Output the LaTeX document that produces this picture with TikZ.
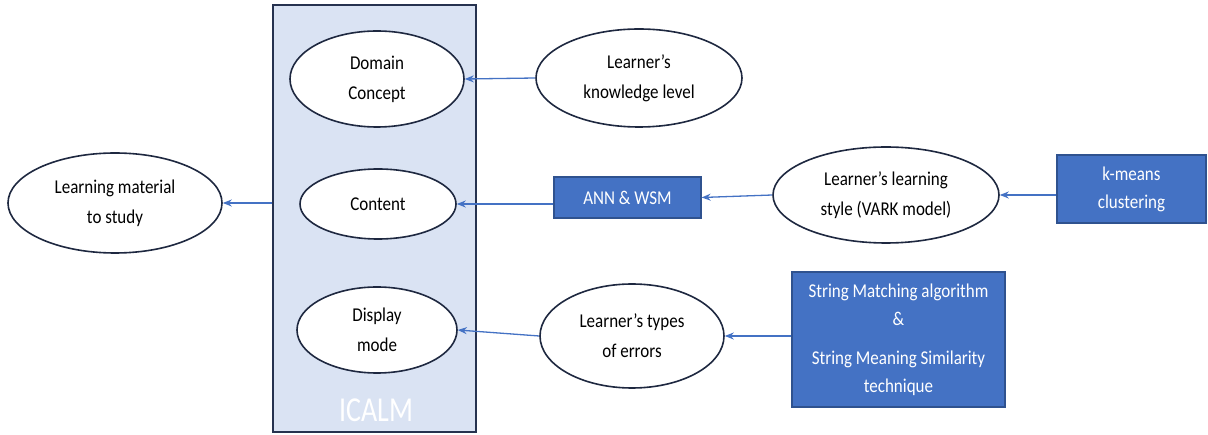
\documentclass[tikz,border=0pt]{standalone}
\usepackage{fontspec}
\usepackage{graphicx}
\setmainfont{Carlito}
\usetikzlibrary{shapes.geometric,arrows.meta}

\definecolor{panelfill}{HTML}{DAE3F3}
\definecolor{panelline}{HTML}{26324F}
\definecolor{ovalline}{HTML}{1E2840}
\definecolor{boxfill}{HTML}{4472C4}
\definecolor{boxline}{HTML}{2F528F}
\definecolor{linkcol}{HTML}{4472C4}

% slightly condensed-looking lettering: stretch each line vertically
\newcommand\tl[1]{\scalebox{1}[1.15]{#1}}

\tikzset{
  oval/.style={ellipse, draw=ovalline, line width=1.6pt, fill=white, inner sep=0pt,
    align=center, font=\fontsize{17}{30}\selectfont, text=black},
  bluebox/.style={rectangle, draw=boxline, line width=1.3pt, fill=boxfill, inner sep=0pt,
    align=center, font=\fontsize{17}{28}\selectfont, text=white},
  link/.style={draw=linkcol, line width=1.3pt, -{Stealth[length=9pt,width=7pt]}},
}

\begin{document}
\begin{tikzpicture}[x=1pt, y=-1pt]
  \useasboundingbox (0,0) rectangle (1208,435);

  % system panel
  \node[rectangle, draw=panelline, line width=1.6pt, fill=panelfill,
        minimum width=203pt, minimum height=427pt, inner sep=0pt] (icalm) at (374.5,218.5) {};
  \node[text=white, font=\fontsize{28}{28}\selectfont] (icalmlabel) at (376,410) {\scalebox{1}[1.25]{ICALM}};

  % components inside the panel
  \node[oval, minimum width=174pt, minimum height=96pt] (dom)  at (377,79)  {\tl{Domain}\\\tl{Concept}};
  \node[oval, minimum width=156pt, minimum height=70pt] (cont) at (378,204) {\tl{Content}};
  \node[oval, minimum width=160pt, minimum height=86pt] (disp) at (377,330) {\tl{Display}\\\tl{mode}};

  % output
  \node[oval, minimum width=214pt, minimum height=100pt] (mat) at (115,203) {\tl{Learning material}\\\tl{to study}};

  % learner model
  \node[oval, minimum width=206pt, minimum height=98pt]  (know)  at (639,78)  {\tl{Learner’s}\\\tl{knowledge level}};
  \node[oval, minimum width=226pt, minimum height=96pt]  (style) at (886,195) {\tl{Learner’s learning}\\\tl{style (VARK model)}};
  \node[oval, minimum width=184pt, minimum height=104pt] (err)   at (632,336) {\tl{Learner’s types}\\\tl{of errors}};

  % techniques
  \node[bluebox, minimum width=147pt, minimum height=41pt]  (ann)    at (627.5,197.5) {\tl{ANN \& WSM}};
  \node[bluebox, minimum width=149pt, minimum height=68pt]  (kmeans) at (1131.5,189) {\tl{k-means}\\\tl{clustering}};
  \node[bluebox, minimum width=213pt, minimum height=135pt] (str)    at (898.5,339.5)
       {\tl{String Matching algorithm}\\\tl{\&}\\[11pt]\tl{String Meaning Similarity}\\\tl{technique}};

  % connectors
  \draw[link] (icalm.west |- mat.east) -- (mat.east);
  \draw[link] (know.west) -- (dom.east);
  \draw[link] (ann.west |- cont.east) -- (cont.east);
  \draw[link] (style.west) -- (ann.east);
  \draw[link] (kmeans.west |- style.east) -- (style.east);
  \draw[link] (err.west) -- (disp.east);
  \draw[link] (str.west |- err.east) -- (err.east);
\end{tikzpicture}
\end{document}
